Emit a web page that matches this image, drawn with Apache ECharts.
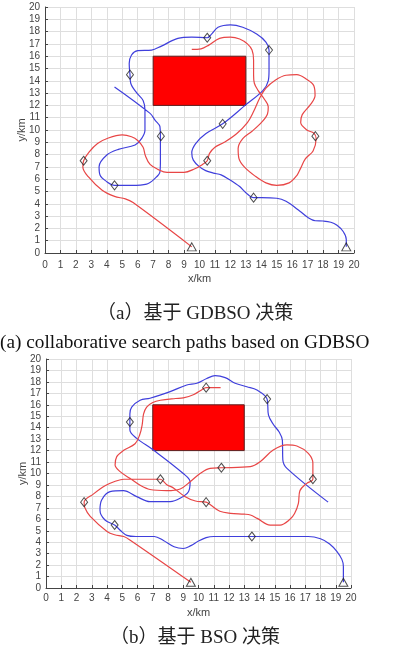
<!DOCTYPE html>
<html>
<head>
<meta charset="utf-8">
<script src="https://cdn.jsdelivr.net/npm/echarts@6/dist/echarts.min.js"></script>
<style>
html,body{margin:0;padding:0;background:#fff;}
#c{width:395px;height:654px;}
</style>
</head>
<body>
<div id="c"></div>
<script>
// ---------- data ----------
const axisMin = 0, axisMax = 20, axisStep = 1;

// obstacle rectangle [x1, y1, x2, y2] (km)
const obstacle = [7, 12, 13, 16];

// waypoints (diamonds) and start points (triangles), same in both panels
const diamondPts = [[10.5,17.5],[14.5,16.5],[5.5,14.5],[11.5,10.5],[7.5,9.5],[17.5,9.5],[2.5,7.5],[10.5,7.5],[4.5,5.5],[13.5,4.5]];
const trianglePts = [[9.5,0.5],[19.5,0.5]];

// (a) GDBSO paths
const redPathA = [[9.5,0.5],[5.7,4.1],[5.2,4.4],[4.5,4.6],[3.7,5.1],[2.8,6.2],[2.45,7.0],[2.5,7.5],[2.85,8.2],[3.4,8.9],[4.1,9.35],[5.0,9.6],[5.6,9.45],[6.0,9.15],[6.35,8.6],[6.5,7.9],[6.8,7.2],[7.3,6.8],[7.9,6.55],[9.0,6.55],[9.7,6.85],[10.2,7.2],[10.5,7.5],[10.65,8.1],[11.0,8.6],[11.6,9.0],[12.4,9.7],[13.1,10.6],[13.5,11.5],[13.9,12.6],[14.3,13.4],[14.9,14.05],[15.6,14.45],[16.3,14.5],[16.9,14.15],[17.4,13.6],[17.48,12.8],[17.2,12.1],[16.65,11.25],[16.55,10.6],[16.95,10.0],[17.4,9.75],[17.55,9.3],[17.35,8.3],[16.85,7.65],[16.55,6.9],[16.3,6.3],[15.8,5.7],[15.0,5.5],[14.3,5.7],[13.6,6.25],[12.9,7.0],[12.55,7.7],[12.5,8.5],[12.8,9.3],[13.4,9.9],[14.0,10.6],[14.4,11.3],[14.45,11.9],[14.2,12.5],[13.8,13.2],[13.55,13.8],[13.5,14.5],[13.5,15.7],[13.4,16.5],[13.1,17.0],[12.6,17.4],[12.0,17.55],[11.3,17.45],[10.6,16.9],[10.1,16.6],[9.5,16.55]];
const bluePathA = [[19.5,0.5],[19.5,1.1],[19.3,1.75],[18.9,2.25],[18.5,2.5],[18.0,2.6],[17.5,2.62],[17.0,2.9],[16.5,3.4],[15.6,4.2],[15.0,4.45],[14.0,4.5],[13.5,4.5],[13.0,4.9],[12.6,5.4],[11.9,6.0],[11.4,6.35],[10.9,6.5],[10.4,6.7],[10.0,7.0],[9.6,7.55],[9.5,8.15],[9.75,8.9],[10.4,9.7],[11.5,10.5],[12.95,12.0],[14.1,13.2],[14.45,14.0],[14.5,14.8],[14.5,16.5],[14.3,17.15],[13.7,17.8],[12.8,18.35],[12.0,18.55],[11.2,18.35],[10.75,17.75],[10.5,17.5],[9.5,17.55],[8.6,17.45],[7.5,16.8],[6.9,16.5],[6.0,16.45],[5.6,16.1],[5.45,15.4],[5.5,14.5],[5.55,13.8],[5.95,13.0],[6.35,12.4],[6.47,11.6],[6.47,10.0],[6.26,9.32],[5.83,8.78],[4.75,8.43],[4.0,7.97],[3.5,7.02],[3.56,6.34],[4.0,5.8],[4.5,5.5],[5.6,5.5],[6.58,5.6],[7.12,6.07],[7.44,6.6],[7.47,7.5],[7.47,9.5],[7.44,10.27],[7.12,10.8],[6.8,11.35],[4.5,13.5]];

// (b) BSO paths
const redPathB = [[9.5,0.5],[5.5,4.2],[5.1,4.5],[4.5,4.65],[4.0,4.94],[2.9,6.25],[2.55,7.0],[2.5,7.5],[3.1,8.2],[3.9,8.95],[4.5,9.3],[5.1,9.5],[7.3,9.5],[7.5,9.5],[7.9,9.05],[8.4,8.7],[9.1,8.0],[9.8,7.6],[10.5,7.5],[10.8,7.25],[11.4,6.7],[12.1,6.52],[13.0,6.45],[13.4,6.38],[13.85,6.08],[14.7,5.5],[15.35,5.5],[16.0,6.0],[16.3,6.5],[16.55,7.4],[16.65,8.5],[17.1,9.14],[17.5,9.5],[17.5,10.9],[17.2,11.76],[16.45,12.4],[15.8,12.5],[14.9,12.05],[14.04,11.03],[13.4,10.6],[11.5,10.5],[10.76,10.45],[10.1,10.0],[9.45,9.28],[8.8,8.65],[7.92,8.5],[6.82,8.6],[6.2,8.95],[5.5,9.58],[4.86,10.16],[4.53,10.74],[4.64,11.47],[5.07,12.0],[5.84,12.6],[6.15,13.4],[6.3,14.2],[6.4,15.2],[6.6,15.8],[7.0,16.2],[7.5,16.4],[8.5,16.55],[9.0,16.6],[9.7,16.9],[10.2,17.3],[10.5,17.5],[11.45,17.5]];
const bluePathB = [[19.5,0.5],[19.5,1.9],[19.4,2.5],[19.07,3.2],[18.6,3.85],[18.0,4.3],[17.2,4.5],[13.5,4.5],[11.0,4.5],[10.5,4.4],[10.0,4.1],[9.5,3.7],[9.0,3.45],[8.4,3.6],[7.7,4.15],[7.1,4.5],[5.9,4.5],[5.3,4.6],[4.9,5.0],[4.5,5.5],[3.87,5.94],[3.54,6.8],[3.65,7.69],[4.2,8.41],[5.07,8.5],[5.95,7.98],[6.82,7.54],[8.14,7.54],[8.79,7.83],[9.34,8.41],[9.45,9.28],[9.0,10.0],[7.04,12.05],[5.95,13.07],[5.5,13.8],[5.5,14.5],[5.5,15.2],[5.62,15.8],[6.17,16.4],[6.82,16.57],[8.14,17.15],[9.23,17.73],[9.89,17.88],[10.54,18.3],[11.09,18.54],[11.75,18.37],[12.4,17.88],[13.17,17.58],[13.83,17.3],[14.5,16.5],[14.59,15.1],[14.9,14.3],[15.3,13.6],[15.5,12.9],[15.53,11.18],[15.8,10.45],[18.5,7.5]];

const captionA1 = '（a）基于 GDBSO 决策';
const captionA2 = '(a) collaborative search paths based on GDBSO';
const captionB = '（b）基于 BSO 决策';
const xName = 'x/km', yName = 'y/km';

// ---------- styling ----------
const BLUE = '#3f3fdc', RED = '#e84646';
const sans = '"Liberation Sans", Arial, sans-serif';
const serif = '"Liberation Serif", "Noto Sans CJK SC", serif';

function xAx(gi, nameGap, labelMargin) {
  return {
    type: 'value', gridIndex: gi, min: axisMin, max: axisMax, interval: axisStep,
    name: xName, nameLocation: 'middle', nameGap: nameGap, nameMoveOverlap: false,
    nameTextStyle: { fontSize: 11, color: '#444', fontFamily: sans },
    axisLine: { show: true, lineStyle: { color: '#444', width: 1 } },
    axisTick: { show: true, inside: true, length: 3, lineStyle: { color: '#444' } },
    axisLabel: { fontSize: 10, color: '#444', margin: labelMargin, fontFamily: sans },
    splitLine: { show: true, lineStyle: { color: '#dedede', width: 1 } }
  };
}
function yAx(gi) {
  return {
    type: 'value', gridIndex: gi, min: axisMin, max: axisMax, interval: axisStep,
    name: yName, nameLocation: 'middle', nameGap: 18, nameRotate: 90, nameMoveOverlap: false,
    nameTextStyle: { fontSize: 11, color: '#444', fontFamily: sans },
    axisLine: { show: true, lineStyle: { color: '#444', width: 1 } },
    axisTick: { show: true, inside: true, length: 3, lineStyle: { color: '#444' } },
    axisLabel: { fontSize: 10, color: '#444', margin: 5, fontFamily: sans },
    splitLine: { show: true, lineStyle: { color: '#dedede', width: 1 } }
  };
}
function pathSeries(gi, data, color) {
  return {
    type: 'line', xAxisIndex: gi, yAxisIndex: gi, data: data,
    smooth: 0.35, symbol: 'none', showSymbol: false, z: 5,
    lineStyle: { color: color, width: 1.2 }, silent: true, animation: false
  };
}
function obstacleSeries(gi) {
  return {
    type: 'line', xAxisIndex: gi, yAxisIndex: gi, data: [], z: 2, silent: true,
    markArea: {
      silent: true,
      itemStyle: { color: '#ff0000', borderColor: '#5a1e1e', borderWidth: 1, opacity: 1 },
      label: { show: false },
      data: [[{ coord: [obstacle[0], obstacle[3]] }, { coord: [obstacle[2], obstacle[1]] }]]
    }
  };
}
function markerSeries(gi, data, sym, size) {
  return {
    type: 'scatter', xAxisIndex: gi, yAxisIndex: gi, data: data,
    symbol: sym, symbolSize: size, z: 10, silent: true, animation: false,
    itemStyle: { color: 'rgba(255,255,255,0)', borderColor: '#222', borderWidth: 1 }
  };
}

const chart = echarts.init(document.getElementById('c'), null, { renderer: 'canvas' });
chart.setOption({
  animation: false,
  backgroundColor: '#fff',
  title: [
    { text: captionA1, left: 97, top: 305, padding: 0,
      textStyle: { fontSize: 19, fontWeight: 'normal', color: '#222', fontFamily: serif } },
    { text: captionA2, left: 0, top: 333, padding: 0,
      textStyle: { fontSize: 19.3, fontWeight: 'normal', color: '#111', fontFamily: serif } },
    { text: captionB, left: 110, top: 629, padding: 0,
      textStyle: { fontSize: 19, fontWeight: 'normal', color: '#222', fontFamily: serif } }
  ],
  grid: [
    { left: 45, top: 7, width: 309, height: 246 },
    { left: 46, top: 359, width: 305, height: 229 }
  ],
  xAxis: [xAx(0, 20, 7), xAx(1, 19, 5)],
  yAxis: [yAx(0), yAx(1)],
  series: [
    obstacleSeries(0),
    pathSeries(0, bluePathA, BLUE),
    pathSeries(0, redPathA, RED),
    markerSeries(0, diamondPts, 'diamond', [7, 9]),
    markerSeries(0, trianglePts, 'triangle', [9, 8]),
    obstacleSeries(1),
    pathSeries(1, bluePathB, BLUE),
    pathSeries(1, redPathB, RED),
    markerSeries(1, diamondPts, 'diamond', [7, 9]),
    markerSeries(1, trianglePts, 'triangle', [9, 8])
  ]
});
</script>
</body>
</html>
